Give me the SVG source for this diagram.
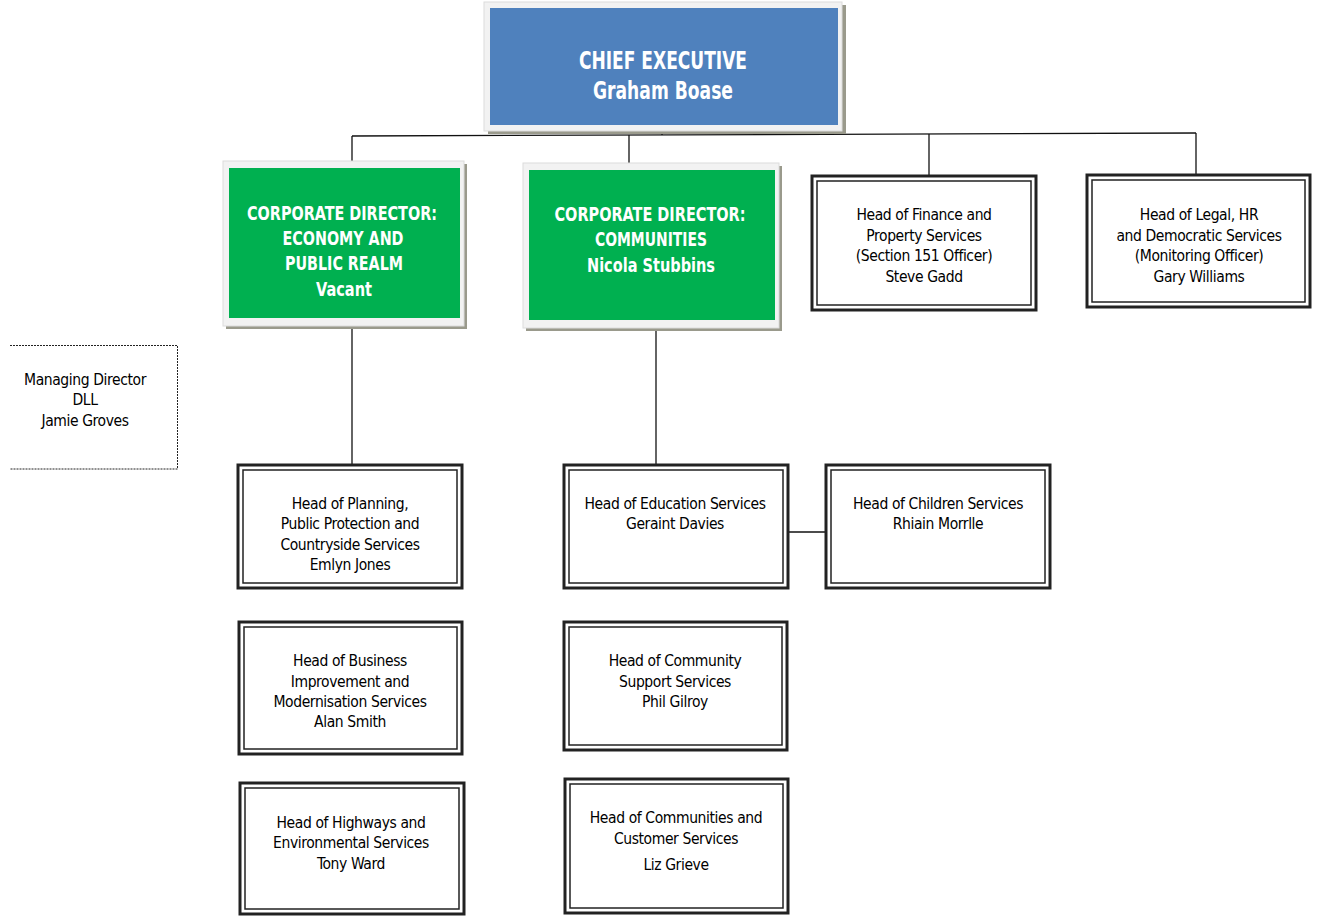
<svg xmlns="http://www.w3.org/2000/svg" width="1319" height="916" viewBox="0 0 1319 916">
<style>
.t{font-family:'Liberation Sans Narrow','DejaVu Sans Condensed','Liberation Sans',sans-serif;font-stretch:condensed;text-anchor:middle;fill:#000;font-size:15.5px;letter-spacing:-0.4px}
.w{font-family:'Liberation Sans Narrow','DejaVu Sans Condensed','Liberation Sans',sans-serif;font-stretch:condensed;text-anchor:middle;fill:#fff;font-weight:bold}
.o{fill:#fff;stroke:#222;stroke-width:3}
.i{fill:none;stroke:#222;stroke-width:1.5}
.frame{fill:#f2f2f2;stroke:#dcdcdc;stroke-width:1}
.sh{fill:#9a9a8c}
.ln{stroke:#111;stroke-width:1.3;fill:none}
</style>
<rect width="1319" height="916" fill="#fff"/>
<g id="connectors">
<line class="ln" x1="662" y1="116" x2="662" y2="135"/>
<line class="ln" x1="352" y1="136" x2="1196" y2="133"/>
<line class="ln" x1="352" y1="136" x2="352" y2="163"/>
<line class="ln" x1="629" y1="135" x2="629" y2="164"/>
<line class="ln" x1="929" y1="134" x2="929" y2="176"/>
<line class="ln" x1="1196" y1="133" x2="1196" y2="176"/>
<line class="ln" x1="352" y1="327" x2="352" y2="464"/>
<line class="ln" x1="656" y1="329" x2="656" y2="464"/>
<line class="ln" x1="788" y1="532" x2="825" y2="532"/>
</g>
<g id="ceo">
<rect class="sh" x="488" y="5" width="358" height="129"/>
<rect class="frame" x="484" y="2" width="358" height="129"/>
<rect x="490" y="8" width="348" height="117" fill="#4f81bd"/>
<text class="w" x="663" y="69" font-size="24" textLength="168" lengthAdjust="spacingAndGlyphs">CHIEF EXECUTIVE</text>
<text class="w" x="663" y="99" font-size="24" textLength="140" lengthAdjust="spacingAndGlyphs">Graham Boase</text>
</g>
<g id="cd-economy">
<rect class="sh" x="226" y="164" width="241" height="165"/>
<rect class="frame" x="223" y="161" width="241" height="165"/>
<rect x="229" y="168" width="231" height="150" fill="#00b050"/>
<text class="w" x="342" y="220" font-size="19" textLength="190" lengthAdjust="spacingAndGlyphs">CORPORATE DIRECTOR:</text>
<text class="w" x="343" y="245" font-size="19" textLength="121" lengthAdjust="spacingAndGlyphs">ECONOMY AND</text>
<text class="w" x="344" y="270" font-size="19" textLength="118" lengthAdjust="spacingAndGlyphs">PUBLIC REALM</text>
<text class="w" x="344" y="296" font-size="19" textLength="56" lengthAdjust="spacingAndGlyphs">Vacant</text>
</g>
<g id="cd-communities">
<rect class="sh" x="526" y="166" width="256" height="165"/>
<rect class="frame" x="523" y="163" width="256" height="165"/>
<rect x="529" y="170" width="246" height="150" fill="#00b050"/>
<text class="w" x="650" y="221" font-size="19" textLength="191" lengthAdjust="spacingAndGlyphs">CORPORATE DIRECTOR:</text>
<text class="w" x="651" y="246" font-size="19" textLength="112" lengthAdjust="spacingAndGlyphs">COMMUNITIES</text>
<text class="w" x="651" y="272" font-size="19" textLength="128" lengthAdjust="spacingAndGlyphs">Nicola Stubbins</text>
</g>
<g id="finance">
<rect class="o" x="812" y="176" width="224" height="134"/>
<rect class="i" x="817" y="181" width="214" height="124"/>
<text class="t" x="924" y="220">Head of Finance and</text>
<text class="t" x="924" y="241">Property Services</text>
<text class="t" x="924" y="261">(Section 151 Officer)</text>
<text class="t" x="924" y="282">Steve Gadd</text>
</g>
<g id="legal">
<rect class="o" x="1087" y="175" width="223" height="132"/>
<rect class="i" x="1092" y="180" width="213" height="122"/>
<text class="t" x="1199" y="220">Head of Legal, HR</text>
<text class="t" x="1199" y="241">and Democratic Services</text>
<text class="t" x="1199" y="261">(Monitoring Officer)</text>
<text class="t" x="1199" y="282">Gary Williams</text>
</g>
<g id="managing-director">
<path d="M10 345.5H177.5V469H10" fill="none" stroke="#222" stroke-width="1" stroke-dasharray="2,1"/>
<text class="t" x="85" y="385">Managing Director</text>
<text class="t" x="85" y="405">DLL</text>
<text class="t" x="85" y="426">Jamie Groves</text>
</g>
<g id="planning">
<rect class="o" x="238" y="465" width="224" height="123"/>
<rect class="i" x="243" y="470" width="214" height="113"/>
<text class="t" x="350" y="509">Head of Planning,</text>
<text class="t" x="350" y="529">Public Protection and</text>
<text class="t" x="350" y="550">Countryside Services</text>
<text class="t" x="350" y="570">Emlyn Jones</text>
</g>
<g id="education">
<rect class="o" x="564" y="465" width="224" height="123"/>
<rect class="i" x="569" y="470" width="214" height="113"/>
<text class="t" x="675" y="509">Head of Education Services</text>
<text class="t" x="675" y="529">Geraint Davies</text>
</g>
<g id="children">
<rect class="o" x="826" y="465" width="224" height="123"/>
<rect class="i" x="831" y="470" width="214" height="113"/>
<text class="t" x="938" y="509">Head of Children Services</text>
<text class="t" x="938" y="529">Rhiain Morrlle</text>
</g>
<g id="business">
<rect class="o" x="239" y="622" width="223" height="132"/>
<rect class="i" x="244" y="627" width="213" height="122"/>
<text class="t" x="350" y="666">Head of Business</text>
<text class="t" x="350" y="687">Improvement and</text>
<text class="t" x="350" y="707">Modernisation Services</text>
<text class="t" x="350" y="727">Alan Smith</text>
</g>
<g id="community-support">
<rect class="o" x="564" y="622" width="223" height="128"/>
<rect class="i" x="569" y="627" width="213" height="118"/>
<text class="t" x="675" y="666">Head of Community</text>
<text class="t" x="675" y="687">Support Services</text>
<text class="t" x="675" y="707">Phil Gilroy</text>
</g>
<g id="highways">
<rect class="o" x="240" y="783" width="224" height="131"/>
<rect class="i" x="245" y="788" width="214" height="121"/>
<text class="t" x="351" y="828">Head of Highways and</text>
<text class="t" x="351" y="848">Environmental Services</text>
<text class="t" x="351" y="869">Tony Ward</text>
</g>
<g id="communities-customer">
<rect class="o" x="565" y="779" width="223" height="134"/>
<rect class="i" x="570" y="784" width="213" height="124"/>
<text class="t" x="676" y="823">Head of Communities and</text>
<text class="t" x="676" y="844">Customer Services</text>
<text class="t" x="676" y="870">Liz Grieve</text>
</g>
</svg>
